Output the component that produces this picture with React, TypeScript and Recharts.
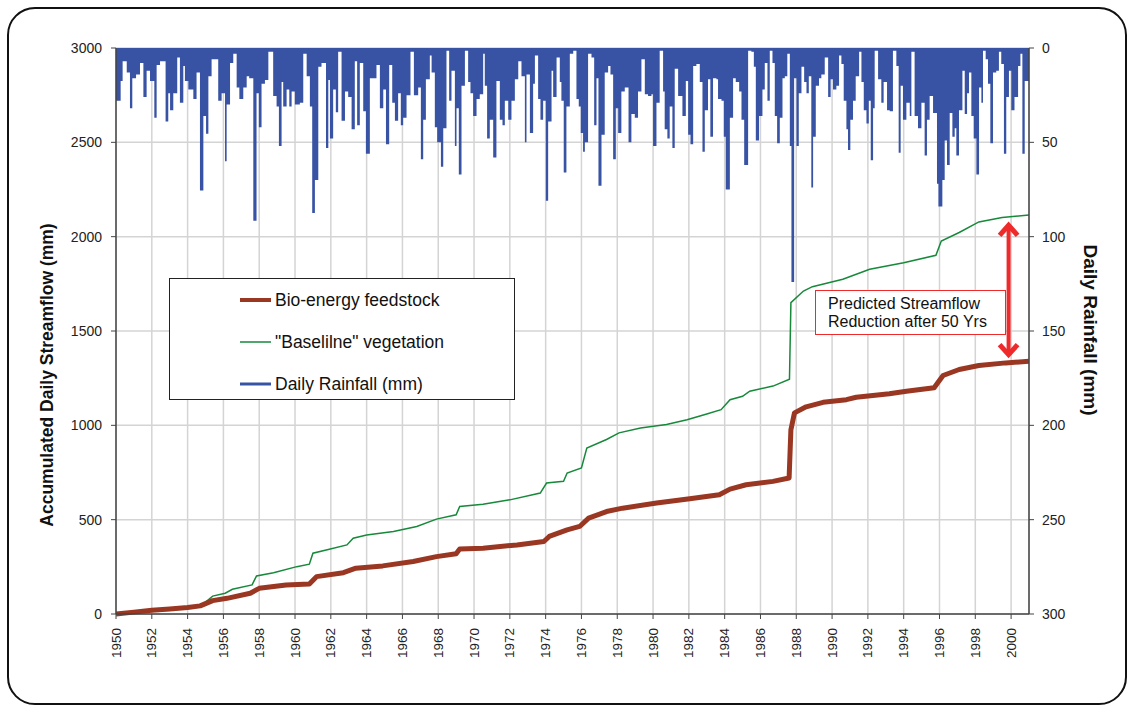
import React from "react";
import {
  ComposedChart,
  Line,
  Area,
  XAxis,
  YAxis,
  CartesianGrid,
  ReferenceLine,
} from "recharts";

document.body.style.margin = "0";

const FONT = '"Liberation Sans", Arial, sans-serif';

const yearTicks = [
  1950, 1952, 1954, 1956, 1958, 1960, 1962, 1964, 1966, 1968, 1970, 1972, 1974,
  1976, 1978, 1980, 1982, 1984, 1986, 1988, 1990, 1992, 1994, 1996, 1998, 2000,
];
const flowTicks = [0, 500, 1000, 1500, 2000, 2500, 3000];
const rainTicks = [0, 50, 100, 150, 200, 250, 300];

// accumulated streamflow [year, mm]
const bioEnergy: [number, number][] = [
  [1950, 0], [1951, 10], [1952, 20], [1953, 27], [1954, 34], [1954.7, 43],
  [1955.4, 71], [1956.2, 83], [1957.5, 110], [1958.0, 136], [1959.5, 154],
  [1960.8, 159], [1961.2, 198], [1962.7, 219], [1963.4, 243], [1964.9, 255],
  [1966.6, 278], [1967.9, 304], [1969.0, 319], [1969.2, 344], [1970.5, 349],
  [1972.4, 366], [1973.9, 384], [1974.2, 411], [1975.2, 446], [1975.9, 464],
  [1976.4, 508], [1977.4, 543], [1978.3, 561], [1980.2, 588], [1982.05, 611],
  [1983.7, 632], [1984.3, 662], [1985.2, 685], [1986.7, 703], [1987.6, 721],
  [1987.7, 977], [1987.9, 1066], [1988.55, 1098], [1989.5, 1122], [1990.8, 1136],
  [1991.35, 1149], [1993.2, 1167], [1994.15, 1181], [1995.7, 1199], [1996.2, 1264],
  [1997.1, 1296], [1998.2, 1317], [1999.7, 1331], [2001, 1340],
];

const baseline: [number, number][] = [
  [1950, 0], [1951, 9], [1952, 18], [1953, 24], [1954, 30], [1954.7, 39],
  [1955.4, 95], [1956.1, 110], [1956.5, 131], [1957.6, 154], [1957.85, 202],
  [1958.8, 219], [1960.1, 251], [1960.8, 264], [1961.0, 322], [1961.8, 340],
  [1962.9, 366], [1963.25, 402], [1964.0, 419], [1965.5, 437], [1966.8, 464],
  [1967.9, 503], [1969.0, 526], [1969.2, 570], [1970.5, 582], [1972.0, 605],
  [1973.7, 641], [1974.05, 694], [1975.0, 703], [1975.2, 747], [1976.0, 774],
  [1976.3, 880], [1977.4, 925], [1978.1, 960], [1979.3, 986], [1980.75, 1004],
  [1981.9, 1030], [1983.0, 1060], [1983.8, 1083], [1984.3, 1136], [1985.0, 1154],
  [1985.4, 1181], [1986.7, 1208], [1987.62, 1244], [1987.7, 1650], [1988.4, 1712],
  [1988.9, 1735], [1990.6, 1774], [1992.1, 1827], [1994.0, 1862], [1995.8, 1901],
  [1996.1, 1977], [1997.1, 2022], [1998.2, 2078], [1999.5, 2101], [2001, 2115],
];

// daily rainfall peaks [year, mm]
const rain1950s: [number, number][] = [
  [1950.0, 28], [1950.26, 17.5], [1950.37, 7], [1950.6, 13], [1950.78, 32], [1950.91, 16],
  [1951.12, 14], [1951.34, 8], [1951.53, 26], [1951.71, 12], [1951.9, 17.5], [1952.14, 37],
  [1952.27, 9], [1952.46, 7], [1952.77, 39], [1952.92, 24], [1953.02, 33], [1953.2, 24],
  [1953.42, 5], [1953.57, 29], [1953.76, 9.5], [1953.85, 17.5], [1954.04, 22], [1954.32, 27],
  [1954.5, 13], [1954.69, 75.5], [1954.88, 36], [1955.03, 45.5], [1955.16, 15], [1955.34, 6],
  [1955.71, 28], [1955.9, 24], [1956.09, 60], [1956.18, 30], [1956.37, 8], [1956.55, 3],
  [1956.74, 21], [1956.89, 27], [1957.11, 21], [1957.3, 15], [1957.44, 16], [1957.67, 91.5],
  [1957.85, 24], [1957.98, 42], [1958.13, 19], [1958.32, 17], [1958.51, 2], [1958.78, 25.5],
  [1958.97, 31], [1959.1, 52], [1959.25, 18], [1959.34, 31], [1959.53, 22], [1959.68, 31],
  [1959.81, 23], [1959.99, 30],
];
const rain1960s: [number, number][] = [
  [1960.27, 29], [1960.46, 3], [1960.65, 15], [1960.83, 31], [1960.96, 87.5], [1961.11, 70],
  [1961.3, 10], [1961.48, 8], [1961.73, 53], [1961.86, 17], [1961.95, 48], [1962.13, 22],
  [1962.28, 34], [1962.41, 2], [1962.6, 38.5], [1962.79, 23], [1962.97, 26], [1963.16, 43],
  [1963.34, 7], [1963.47, 41], [1963.62, 8], [1963.81, 33.5], [1963.96, 56], [1964.18, 16],
  [1964.37, 16], [1964.55, 9], [1964.74, 32], [1964.93, 22], [1965.08, 51], [1965.26, 9],
  [1965.43, 29], [1965.58, 38.5], [1965.76, 24], [1965.91, 41], [1966.04, 37], [1966.23, 25],
  [1966.45, 2], [1966.64, 25], [1966.88, 21], [1967.03, 59], [1967.16, 38], [1967.31, 16.6],
  [1967.53, 4], [1967.63, 13], [1967.81, 42], [1967.94, 50], [1968.15, 63], [1968.28, 42.5],
  [1968.46, 1.5], [1968.61, 28], [1968.74, 12], [1968.93, 52], [1969.02, 32], [1969.15, 67],
  [1969.3, 20], [1969.49, 1.5], [1969.67, 18], [1969.8, 24], [1969.95, 36],
];
const rain1970s: [number, number][] = [
  [1970.14, 27], [1970.32, 24.5], [1970.51, 3], [1970.6, 20], [1970.73, 48], [1970.88, 38],
  [1971.07, 58], [1971.25, 17.5], [1971.44, 38], [1971.59, 41], [1971.72, 28], [1971.91, 38],
  [1972.09, 28], [1972.28, 16.6], [1972.47, 7], [1972.65, 15], [1972.84, 50], [1972.93, 14],
  [1973.12, 45], [1973.3, 19], [1973.4, 4], [1973.58, 27], [1973.71, 38], [1973.86, 28],
  [1974.01, 81], [1974.14, 39], [1974.33, 12], [1974.42, 26], [1974.61, 5], [1974.79, 18],
  [1974.88, 28], [1975.01, 66], [1975.16, 31], [1975.35, 3], [1975.54, 1.5], [1975.72, 27],
  [1975.85, 31], [1975.96, 45], [1976.09, 55], [1976.19, 50], [1976.37, 3], [1976.56, 5],
  [1976.71, 41], [1976.84, 16], [1976.95, 73], [1977.12, 46], [1977.3, 13], [1977.49, 9.5],
  [1977.62, 14], [1977.77, 59], [1977.92, 32], [1978.05, 45], [1978.23, 23], [1978.42, 21],
  [1978.63, 50], [1978.79, 35], [1978.98, 37], [1979.16, 23], [1979.35, 6], [1979.54, 24.5],
  [1979.72, 25.5], [1979.91, 24.5],
];
const rain1980s: [number, number][] = [
  [1980.0, 52], [1980.19, 29], [1980.37, 1.5], [1980.56, 23], [1980.65, 43], [1980.8, 48],
  [1980.93, 31], [1981.08, 53], [1981.21, 11], [1981.4, 25.5], [1981.64, 36], [1981.83, 17.5],
  [1981.96, 46], [1982.09, 51], [1982.24, 9.5], [1982.42, 8.5], [1982.61, 18], [1982.76, 55],
  [1982.89, 33], [1983.07, 16.6], [1983.2, 47], [1983.35, 16], [1983.54, 16.6], [1983.63, 27],
  [1983.82, 28], [1983.95, 47], [1984.06, 75], [1984.29, 37], [1984.47, 16], [1984.62, 18],
  [1984.81, 23], [1984.94, 38], [1985.09, 62], [1985.31, 1.5], [1985.49, 2], [1985.63, 10],
  [1985.74, 49], [1985.92, 36], [1986.11, 22], [1986.24, 8], [1986.39, 28], [1986.52, 1.5],
  [1986.67, 8], [1986.8, 36], [1986.93, 50.5], [1987.08, 37], [1987.23, 16], [1987.36, 15],
  [1987.5, 3], [1987.64, 52], [1987.73, 124], [1987.88, 16], [1988.01, 52], [1988.14, 24],
  [1988.29, 10], [1988.44, 18], [1988.57, 24], [1988.7, 15], [1988.84, 74], [1988.94, 47],
  [1989.09, 20], [1989.27, 16], [1989.4, 14], [1989.59, 5], [1989.78, 26], [1989.92, 16.6],
];
const rain1990s: [number, number][] = [
  [1990.05, 22], [1990.24, 20], [1990.39, 4], [1990.52, 8.5], [1990.65, 28], [1990.8, 43],
  [1990.89, 54], [1991.02, 38], [1991.17, 28], [1991.32, 15], [1991.51, 2], [1991.64, 18],
  [1991.77, 33], [1991.92, 40], [1992.05, 28], [1992.16, 59.5], [1992.29, 32], [1992.38, 1.5],
  [1992.57, 16.6], [1992.75, 29], [1992.88, 18], [1993.07, 33], [1993.22, 33.5], [1993.4, 1.5],
  [1993.59, 9.5], [1993.72, 55.5], [1993.83, 20], [1993.96, 38], [1994.15, 29], [1994.34, 36],
  [1994.43, 2], [1994.61, 36], [1994.8, 42.5], [1994.99, 29], [1995.17, 57], [1995.3, 38],
  [1995.45, 25.5], [1995.64, 34.5], [1995.86, 72], [1995.94, 84], [1996.05, 84], [1996.16, 70],
  [1996.29, 49], [1996.42, 62], [1996.57, 34.5], [1996.72, 47], [1996.85, 42.5], [1996.94, 57],
  [1997.09, 33], [1997.28, 12], [1997.41, 35], [1997.54, 24], [1997.65, 13], [1997.78, 36],
  [1997.91, 48], [1998.06, 67], [1998.21, 21], [1998.34, 29], [1998.43, 1.5], [1998.58, 6],
  [1998.71, 19], [1998.84, 50.5], [1998.99, 13], [1999.17, 12], [1999.32, 2], [1999.45, 8.5],
  [1999.6, 56], [1999.73, 26], [1999.88, 12], [2000.01, 33], [2000.19, 26], [2000.39, 9.5],
  [2000.52, 3], [2000.63, 56], [2000.76, 17.5], [2001.0, 17.5],
];

// streamflow reduction arrow ends (year, mm)
const arrowYear = 1999.86;
const arrowTop = 2076;
const arrowBottom = 1359;

const bioData = bioEnergy.map(([t, v]) => ({ t, v }));
const baseData = baseline.map(([t, v]) => ({ t, v }));
const rainData = [...rain1950s, ...rain1960s, ...rain1970s, ...rain1980s, ...rain1990s].map(
  ([t, mm]) => ({ t, mm })
);

const RED = "#EE2A2A";
const BROWN = "#9A3722";
const GREEN = "#17893A";
const BLUE = "#3953A4";

function YearTick({ x, y, payload }: any) {
  return (
    <text
      x={x}
      y={y}
      dy={4.5}
      transform={`rotate(-90 ${x} ${y})`}
      textAnchor="end"
      fontSize={13.5}
      fontFamily={FONT}
      fill="#222"
    >
      {payload.value}
    </text>
  );
}

function DoubleArrow({ x1, y1, y2 }: any) {
  const top = Math.min(y1, y2);
  const bot = Math.max(y1, y2);
  return (
    <g>
      <line x1={x1} x2={x1} y1={top + 3} y2={bot - 3} stroke={RED} strokeWidth={4} />
      <polyline
        points={`${x1 - 9},${top + 13} ${x1},${top + 3} ${x1 + 9},${top + 13}`}
        fill="none"
        stroke={RED}
        strokeWidth={5}
      />
      <polyline
        points={`${x1 - 9},${bot - 13} ${x1},${bot - 3} ${x1 + 9},${bot - 13}`}
        fill="none"
        stroke={RED}
        strokeWidth={5}
      />
    </g>
  );
}

const legendItems = [
  { label: "Bio-energy feedstock", color: BROWN, width: 4 },
  { label: '"Baselilne" vegetation', color: GREEN, width: 1.5 },
  { label: "Daily Rainfall (mm)", color: BLUE, width: 3 },
];

export default function App() {
  return (
    <div
      style={{
        position: "relative",
        width: 1130,
        height: 708,
        background: "#fff",
        fontFamily: FONT,
        overflow: "hidden",
      }}
    >
      <div
        style={{
          position: "absolute",
          left: 7,
          top: 7,
          width: 1116,
          height: 694,
          border: "2px solid #111",
          borderRadius: 28,
        }}
      />
      <ComposedChart
        width={1130}
        height={708}
        margin={{ top: 48, right: 56, bottom: 49, left: 56 }}
        style={{ position: "absolute", left: 0, top: 0 }}
      >
        <CartesianGrid yAxisId="left" stroke="#d4d4d4" strokeWidth={1.5} />
        <XAxis
          dataKey="t"
          type="number"
          domain={[1950, 2001]}
          ticks={yearTicks}
          interval={0}
          allowDataOverflow
          height={45}
          tickSize={5}
          tickMargin={9}
          tick={<YearTick />}
          axisLine={{ stroke: "#444", strokeWidth: 1.5 }}
          tickLine={{ stroke: "#444" }}
        />
        <YAxis
          yAxisId="left"
          domain={[0, 3000]}
          ticks={flowTicks}
          interval={0}
          width={60}
          tickSize={5}
          tickMargin={9}
          tick={{ fontSize: 14, fill: "#222", fontFamily: FONT }}
          axisLine={{ stroke: "#444", strokeWidth: 1.5 }}
          tickLine={{ stroke: "#444" }}
        />
        <YAxis
          yAxisId="rain"
          orientation="right"
          reversed
          domain={[0, 300]}
          ticks={rainTicks}
          interval={0}
          width={45}
          tickSize={5}
          tickMargin={8}
          tick={{ fontSize: 14, fill: "#222", fontFamily: FONT }}
          axisLine={{ stroke: "#444", strokeWidth: 1.5 }}
          tickLine={{ stroke: "#444" }}
        />
        <Area
          yAxisId="rain"
          data={rainData}
          dataKey="mm"
          type="stepAfter"
          stroke="none"
          fill={BLUE}
          fillOpacity={1}
          isAnimationActive={false}
          dot={false}
          activeDot={false}
        />
        <Line
          yAxisId="left"
          data={baseData}
          dataKey="v"
          type="linear"
          stroke={GREEN}
          strokeWidth={1.5}
          dot={false}
          activeDot={false}
          isAnimationActive={false}
        />
        <Line
          yAxisId="left"
          data={bioData}
          dataKey="v"
          type="linear"
          stroke={BROWN}
          strokeWidth={5}
          strokeLinejoin="round"
          dot={false}
          activeDot={false}
          isAnimationActive={false}
        />
        <ReferenceLine
          yAxisId="left"
          segment={[
            { x: arrowYear, y: arrowTop },
            { x: arrowYear, y: arrowBottom },
          ]}
          stroke={RED}
          shape={(p: any) => <DoubleArrow {...p} />}
        />
      </ComposedChart>

      <svg
        width={1130}
        height={708}
        style={{ position: "absolute", left: 0, top: 0, pointerEvents: "none" }}
      >
        <text
          transform="translate(53 375) rotate(-90)"
          textAnchor="middle"
          fontSize={17.5}
          fontWeight="bold"
          fontFamily={FONT}
          fill="#111"
        >
          Accumulated Daily Streamflow (mm)
        </text>
        <text
          transform="translate(1084 330) rotate(90)"
          textAnchor="middle"
          fontSize={19}
          fontWeight="bold"
          fontFamily={FONT}
          fill="#111"
        >
          Daily Rainfall (mm)
        </text>
      </svg>

      <div
        style={{
          position: "absolute",
          left: 169,
          top: 278,
          width: 346,
          height: 122,
          border: "1px solid #222",
          background: "#fff",
          boxSizing: "border-box",
        }}
      >
        {legendItems.map((it, i) => (
          <div
            key={it.label}
            style={{
              position: "absolute",
              left: 70,
              top: 10 + i * 42,
              height: 22,
              display: "flex",
              alignItems: "center",
              whiteSpace: "nowrap",
            }}
          >
            <svg width={32} height={22}>
              <line x1={0} x2={31} y1={11} y2={11} stroke={it.color} strokeWidth={it.width} />
            </svg>
            <span style={{ fontSize: 17.5, color: "#111", marginLeft: 3 }}>{it.label}</span>
          </div>
        ))}
      </div>

      <div
        style={{
          position: "absolute",
          left: 815,
          top: 290,
          width: 191,
          height: 45,
          border: `1px solid ${RED}`,
          background: "#fff",
          boxSizing: "border-box",
          padding: "4px 0 0 12px",
          fontSize: 16,
          lineHeight: "18px",
          color: "#111",
        }}
      >
        Predicted Streamflow
        <br />
        Reduction after 50 Yrs
      </div>
    </div>
  );
}
